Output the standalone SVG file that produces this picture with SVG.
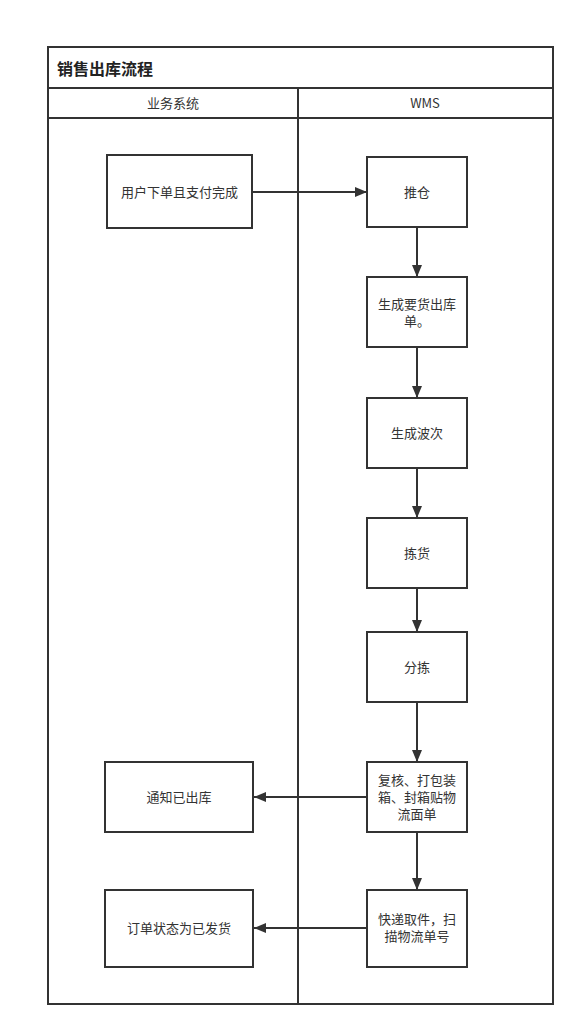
<svg xmlns="http://www.w3.org/2000/svg" width="585" height="1036" viewBox="0 0 585 1036">
<style>
.frame{fill:none;stroke:#333;stroke-width:2}
.node rect{fill:#fff;stroke:#333;stroke-width:2}
text{font-family:"Microsoft YaHei","Noto Sans CJK SC","Liberation Sans",sans-serif;font-size:13px;fill:#333;text-anchor:middle}
.title{font-size:16px;font-weight:bold;text-anchor:start;fill:#222}
.conn{fill:none;stroke:#333;stroke-width:2}
</style>
<defs>
<marker id="arr" viewBox="0 0 12 10" refX="12" refY="5" markerWidth="12" markerHeight="10" markerUnits="userSpaceOnUse" orient="auto">
<path d="M0,0 L12,5 L0,10 Z" fill="#333"/>
</marker>
</defs>
<rect width="585" height="1036" fill="#fff"/>
<g id="pool">
<rect class="frame" x="48" y="47" width="505" height="957"/>
<line class="frame" x1="48" y1="88" x2="553" y2="88"/>
<line class="frame" x1="48" y1="118" x2="553" y2="118"/>
<line class="frame" x1="298" y1="88" x2="298" y2="1004"/>
<text class="title" x="57" y="75">销售出库流程</text>
<text x="173" y="108">业务系统</text>
<text x="425" y="108">WMS</text>
</g>
<g id="connectors">
<line class="conn" x1="252" y1="192" x2="367" y2="192" marker-end="url(#arr)"/>
<line class="conn" x1="417" y1="227" x2="417" y2="277" marker-end="url(#arr)"/>
<line class="conn" x1="417" y1="347" x2="417" y2="398" marker-end="url(#arr)"/>
<line class="conn" x1="417" y1="468" x2="417" y2="518" marker-end="url(#arr)"/>
<line class="conn" x1="417" y1="588" x2="417" y2="632" marker-end="url(#arr)"/>
<line class="conn" x1="417" y1="702" x2="417" y2="762" marker-end="url(#arr)"/>
<line class="conn" x1="417" y1="832" x2="417" y2="890" marker-end="url(#arr)"/>
<line class="conn" x1="367" y1="797" x2="254" y2="797" marker-end="url(#arr)"/>
<line class="conn" x1="367" y1="928" x2="254" y2="928" marker-end="url(#arr)"/>
</g>
<g id="n1" class="node"><rect x="107" y="155" width="145" height="73"/><text x="179.5" y="197">用户下单且支付完成</text></g>
<g id="n2" class="node"><rect x="367" y="157" width="100" height="70"/><text x="417" y="197">推仓</text></g>
<g id="n3" class="node"><rect x="367" y="277" width="100" height="70"/><text x="417" y="309">生成要货出库</text><text x="417" y="326">单。</text></g>
<g id="n4" class="node"><rect x="367" y="398" width="100" height="70"/><text x="417" y="438">生成波次</text></g>
<g id="n5" class="node"><rect x="367" y="518" width="100" height="70"/><text x="417" y="558">拣货</text></g>
<g id="n6" class="node"><rect x="367" y="632" width="100" height="70"/><text x="417" y="672">分拣</text></g>
<g id="n7" class="node"><rect x="367" y="762" width="100" height="70"/><text x="417" y="785">复核、打包装</text><text x="417" y="802">箱、封箱贴物</text><text x="417" y="819">流面单</text></g>
<g id="n8" class="node"><rect x="367" y="890" width="100" height="77"/><text x="417" y="924">快递取件，扫</text><text x="417" y="941">描物流单号</text></g>
<g id="n9" class="node"><rect x="105" y="762" width="148" height="70"/><text x="179" y="802">通知已出库</text></g>
<g id="n10" class="node"><rect x="105" y="890" width="148" height="77"/><text x="179" y="933">订单状态为已发货</text></g>
</svg>
